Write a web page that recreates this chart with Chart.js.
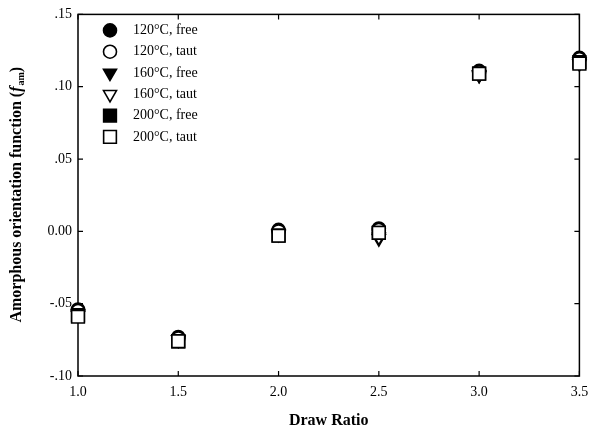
<!DOCTYPE html>
<html>
<head>
<meta charset="utf-8">
<script src="https://cdn.jsdelivr.net/npm/chart.js@4.4.1/dist/chart.umd.min.js"></script>
<style>
  html, body { margin: 0; padding: 0; background: #fff; }
  .chart-box { width: 590px; height: 435px; position: relative; }
</style>
</head>
<body>
<div class="chart-box"><canvas id="fam-chart"></canvas></div>
<script>
// draw ratio on x, amorphous orientation function on y
const drawRatios = [1.0, 1.5, 2.0, 2.5, 3.0, 3.5];
const yTicks = [-0.10, -0.05, 0.00, 0.05, 0.10, 0.15];
const xTicks = [1.0, 1.5, 2.0, 2.5, 3.0, 3.5];

const seriesLabels = ['120°C, free', '120°C, taut', '160°C, free', '160°C, taut', '200°C, free', '200°C, taut'];
const free120 = [-0.054, -0.073, 0.001, 0.002, 0.111, 0.120];
const taut120 = [-0.055, -0.074, 0.000, 0.001, 0.110, 0.119];
const free160 = [-0.057, -0.075, -0.002, -0.005, 0.108, 0.117];
const taut160 = [-0.058, -0.075, -0.002, -0.004, 0.108, 0.116];
const free200 = [-0.058, -0.076, -0.003, -0.001, 0.109, 0.117];
const taut200 = [-0.059, -0.076, -0.003, -0.001, 0.109, 0.116];

const SERIF = '"Liberation Serif", "Times New Roman", serif';

// marker look per series, same order as seriesLabels
const markers = [
    { pointStyle: 'circle',   radius: 6.5, rotation: 0,   fill: '#000' },
    { pointStyle: 'circle',   radius: 6.5, rotation: 0,   fill: '#fff' },
    { pointStyle: 'triangle', radius: 7.5, rotation: 180, fill: '#000' },
    { pointStyle: 'triangle', radius: 7.5, rotation: 180, fill: '#fff' },
    { pointStyle: 'rect',     radius: 9,   rotation: 0,   fill: '#000' },
    { pointStyle: 'rect',     radius: 9,   rotation: 0,   fill: '#fff' }
];
const seriesValues = [free120, taut120, free160, taut160, free200, taut200];

function makeDataset(i) {
    const m = markers[i];
    return {
        label: seriesLabels[i],
        data: drawRatios.map((x, k) => ({ x: x, y: seriesValues[i][k] })),
        showLine: false,
        clip: false,
        pointStyle: m.pointStyle,
        pointRadius: m.radius,
        pointHoverRadius: m.radius,
        pointRotation: m.rotation,
        pointBackgroundColor: m.fill,
        pointBorderColor: '#000',
        pointBorderWidth: 1.6
    };
}

// first dataset is painted last, so the taut 200 squares end up on top
const datasets = [5, 4, 3, 2, 1, 0].map(makeDataset);

const frameAndTicks = {
    id: 'frameAndTicks',
    beforeDatasetsDraw(chart) {
        const ctx = chart.ctx;
        const a = chart.chartArea;
        const xs = chart.scales.x;
        const ys = chart.scales.y;
        ctx.save();
        ctx.strokeStyle = '#000';
        ctx.lineWidth = 1.5;
        ctx.strokeRect(a.left, a.top, a.right - a.left, a.bottom - a.top);
        ctx.lineWidth = 1.2;
        ctx.beginPath();
        xTicks.forEach(v => {
            const px = xs.getPixelForValue(v);
            ctx.moveTo(px, a.bottom); ctx.lineTo(px, a.bottom - 5);
            ctx.moveTo(px, a.top); ctx.lineTo(px, a.top + 5);
        });
        yTicks.forEach(v => {
            const py = ys.getPixelForValue(v);
            ctx.moveTo(a.left, py); ctx.lineTo(a.left + 5, py);
            ctx.moveTo(a.right, py); ctx.lineTo(a.right - 5, py);
        });
        ctx.stroke();
        ctx.restore();
    },
    afterDraw(chart) {
        drawYTitle(chart);
        drawLegend(chart);
    }
};

function drawYTitle(chart) {
    const ctx = chart.ctx;
    const a = chart.chartArea;
    const parts = [
        { text: 'Amorphous orientation function (', font: 'bold 16px ' + SERIF, dy: 0 },
        { text: 'f', font: 'italic bold 16px ' + SERIF, dy: 0 },
        { text: 'am', font: 'bold 10px ' + SERIF, dy: 4 },
        { text: ')', font: 'bold 16px ' + SERIF, dy: 0 }
    ];
    ctx.save();
    let total = 0;
    parts.forEach(p => { ctx.font = p.font; p.w = ctx.measureText(p.text).width; total += p.w; });
    ctx.translate(17, (a.top + a.bottom) / 2);
    ctx.rotate(-Math.PI / 2);
    ctx.fillStyle = '#000';
    ctx.textBaseline = 'middle';
    let x = -total / 2;
    parts.forEach(p => {
        ctx.font = p.font;
        ctx.fillText(p.text, x, p.dy);
        x += p.w + (p.text === 'f' ? 1 : 0);
    });
    ctx.restore();
}

function drawLegend(chart) {
    const ctx = chart.ctx;
    const a = chart.chartArea;
    const drawPoint = Chart.helpers && Chart.helpers.drawPoint;
    ctx.save();
    ctx.font = '14px ' + SERIF;
    ctx.textBaseline = 'middle';
    seriesLabels.forEach((label, i) => {
        const m = markers[i];
        const y = a.top + 16 + i * 21.3;
        const x = a.left + 32;
        ctx.fillStyle = m.fill;
        ctx.strokeStyle = '#000';
        ctx.lineWidth = 1.6;
        if (drawPoint) {
            drawPoint(ctx, { pointStyle: m.pointStyle, radius: m.radius, rotation: m.rotation, borderWidth: 1.6 }, x, y);
        }
        ctx.fillStyle = '#000';
        ctx.fillText(label, a.left + 55, y);
    });
    ctx.restore();
}

new Chart(document.getElementById('fam-chart'), {
    type: 'scatter',
    data: { datasets: datasets },
    options: {
        responsive: true,
        maintainAspectRatio: false,
        devicePixelRatio: 1,
        animation: false,
        layout: { padding: { top: 12, right: 9, left: 0, bottom: 0 } },
        plugins: {
            legend: { display: false },
            tooltip: { enabled: false }
        },
        scales: {
            x: {
                type: 'linear',
                min: 1.0,
                max: 3.5,
                afterBuildTicks: s => { s.ticks = xTicks.map(v => ({ value: v })); },
                afterFit: s => { s.height = 59; s.paddingLeft = 0; s.paddingRight = 0; },
                grid: { display: false, drawTicks: false },
                border: { display: false },
                ticks: {
                    color: '#000',
                    padding: 8,
                    maxRotation: 0,
                    font: { family: SERIF, size: 14 },
                    callback: v => v.toFixed(1)
                },
                title: {
                    display: true,
                    text: 'Draw Ratio',
                    color: '#000',
                    font: { family: SERIF, size: 16, weight: 'bold' },
                    padding: { top: 0, bottom: 5 }
                }
            },
            y: {
                min: -0.10,
                max: 0.15,
                afterBuildTicks: s => { s.ticks = yTicks.map(v => ({ value: v })); },
                afterFit: s => { s.width = 78; },
                grid: { display: false, drawTicks: false },
                border: { display: false },
                ticks: {
                    color: '#000',
                    padding: 6,
                    font: { family: SERIF, size: 14 },
                    callback: v => Math.abs(v) < 1e-9 ? '0.00' : v.toFixed(2).replace('0.', '.')
                }
            }
        }
    },
    plugins: [frameAndTicks]
});
</script>
</body>
</html>
